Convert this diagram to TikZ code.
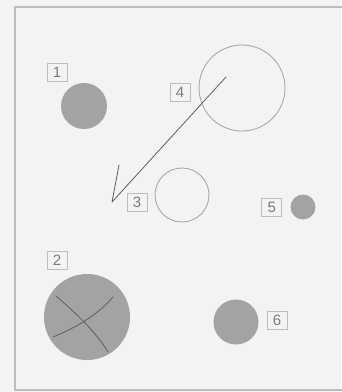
\documentclass[tikz,border=0pt]{standalone}
\usepackage{fontspec}
\setsansfont{Liberation Sans}
\usepackage{tikz}
\usetikzlibrary{positioning}
\definecolor{paper}{HTML}{F3F3F3}
\definecolor{dotfill}{HTML}{A3A3A3}
\definecolor{ringline}{HTML}{A8A8A8}
\definecolor{tagline}{HTML}{BDBDBD}
\definecolor{tagtext}{HTML}{7A7A7A}
\definecolor{pen}{HTML}{5E5E5E}

\begin{document}
\begin{tikzpicture}[
  x=1pt, y=1pt,
  dot/.style={circle, fill=dotfill, inner sep=0pt},
  ring/.style={circle, draw=ringline, line width=0.9pt, inner sep=0pt},
  tag/.style={rectangle, draw=tagline, line width=0.9pt, minimum width=20pt,
              minimum height=18pt, inner sep=0pt, text=tagtext,
              font=\sffamily\fontsize{15}{15}\selectfont},
  pencil/.style={draw=pen, line width=0.8pt, line cap=round, line join=round}
]
  \useasboundingbox[fill=paper] (0,0) rectangle (341,-392);
  % frame
  \draw[tagline, line width=1.2pt] (345,-7) -- (15,-7) -- (15,-390) -- (345,-390);

  % circles
  \node[dot]  (c1) at (84,-106)  [minimum size=46pt] {};
  \node[dot]  (c2) at (87,-317)  [minimum size=86pt] {};
  \node[ring] (c3) at (182,-195) [minimum size=54pt] {};
  \node[ring] (c4) at (242,-88)  [minimum size=86pt] {};
  \node[dot]  (c5) at (303,-207) [minimum size=25pt] {};
  \node[dot]  (c6) at (236,-322) [minimum size=45pt] {};

  % number tags
  \node[tag] (t1) at (57,-72)  {1};
  \node[tag] (t2) at (57,-260) {2};
  \node[tag] (t3) [left=7pt of c3, yshift=-7pt] {3};
  \node[tag] (t4) [left=8pt of c4, yshift=-4pt] {4};
  \node[tag] (t5) [left=8pt of c5] {5};
  \node[tag] (t6) [right=8pt of c6, yshift=2pt] {6};

  % hand drawn arrow
  \coordinate (a0) at (226,-77);
  \coordinate (a1) at (112,-202);
  \coordinate (a2) at (119,-165);
  \draw[pencil] (a0) -- (a1) -- (a2);

  % cross in circle 2
  \draw[pencil] (56,-296) .. controls (70,-308) and (95,-330) .. (108,-352);
  \draw[pencil] (53,-337) .. controls (70,-330) and (95,-318) .. (113,-297);
\end{tikzpicture}
\end{document}
